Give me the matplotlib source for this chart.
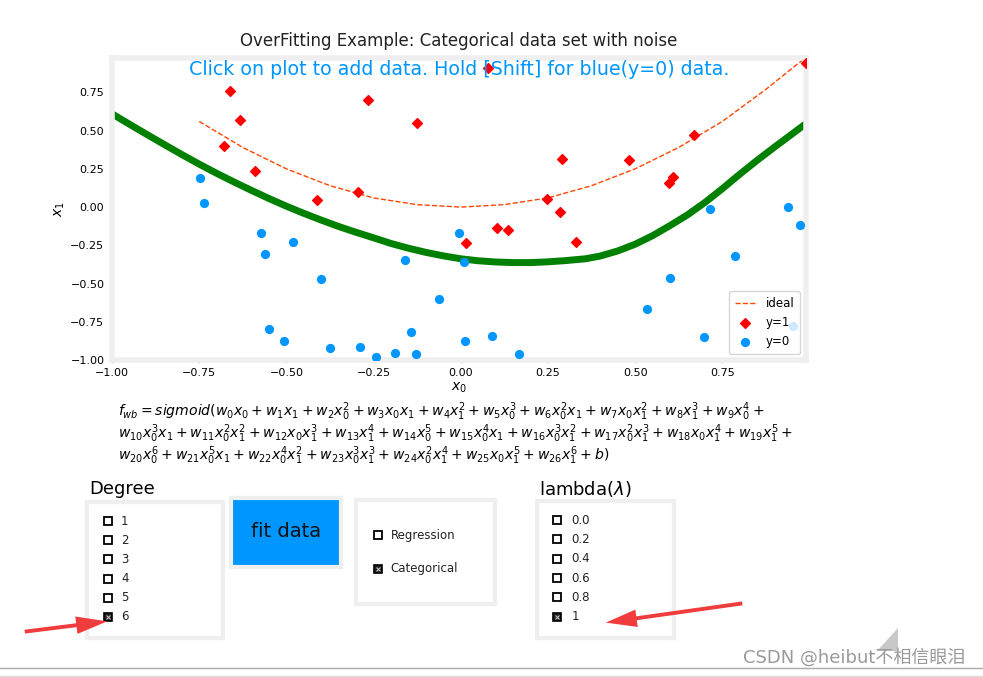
import numpy as np
import matplotlib
matplotlib.use('Agg')
import matplotlib.pyplot as plt
from matplotlib.patches import FancyArrowPatch, Polygon

plt.rcParams['font.family'] = ['DejaVu Sans', 'Noto Sans CJK SC']

W, H = 983, 677
dlblue = '#0096ff'
frame_gray = '#efefef'

# y=1 samples (red diamonds)
pos_x0 = [-0.662, -0.633, -0.678, -0.590, -0.413, 0.079, -0.267, -0.125, 0.291, -0.296, 0.246,
          0.285, 0.483, 0.670, 0.609, 0.596, 0.990, 0.105, 0.136, 0.330, 0.015]
pos_x1 = [0.761, 0.568, 0.399, 0.239, 0.046, 0.912, 0.699, 0.553, 0.316, 0.097, 0.053,
          -0.035, 0.309, 0.474, 0.199, 0.156, 0.945, -0.134, -0.149, -0.228, -0.237]

# y=0 samples (blue dots)
neg_x0 = [-0.749, -0.736, -0.574, -0.482, -0.561, -0.401, -0.551, -0.507, -0.374, -0.288,
          -0.242, -0.188, -0.159, -0.143, -0.128, -0.063, -0.004, 0.009, 0.013, 0.091, 0.167,
          0.534, 0.600, 0.697, 0.716, 0.786, 0.937, 0.973, 0.953]
neg_x1 = [0.191, 0.026, -0.171, -0.230, -0.305, -0.471, -0.794, -0.873, -0.923, -0.917,
          -0.978, -0.956, -0.344, -0.814, -0.958, -0.601, -0.171, -0.360, -0.879, -0.842, -0.958,
          -0.664, -0.467, -0.849, -0.013, -0.322, -0.002, -0.118, -0.776]

# ideal boundary (dashed)
ideal_x = [-0.75, -0.625, -0.5, -0.375, -0.25, -0.125, 0.0, 0.125, 0.25, 0.375, 0.5, 0.625,
           0.75, 0.875, 0.99]
ideal_y = [0.56, 0.39, 0.25, 0.14, 0.06, 0.016, 0.0, 0.016, 0.06, 0.14, 0.25, 0.39,
           0.56, 0.77, 0.98]

# fitted decision boundary (green)
fit_x = [-1.0, -0.95, -0.9, -0.85, -0.8, -0.75, -0.7, -0.65, -0.6, -0.55, -0.5, -0.45, -0.4,
         -0.35, -0.3, -0.25, -0.2, -0.15, -0.1, -0.05, 0.0, 0.05, 0.1, 0.15, 0.2, 0.25, 0.3,
         0.358, 0.4, 0.45, 0.5, 0.55, 0.6, 0.65, 0.7, 0.75, 0.8, 0.85, 0.9, 0.95, 0.99]
fit_y = [0.610, 0.542, 0.475, 0.409, 0.344, 0.281, 0.221, 0.164, 0.109, 0.056, 0.006, -0.041,
         -0.085, -0.127, -0.165, -0.201, -0.238, -0.269, -0.296, -0.319, -0.338, -0.351, -0.359,
         -0.363, -0.363, -0.358, -0.350, -0.338, -0.320, -0.287, -0.243, -0.187, -0.121, -0.051,
         0.030, 0.120, 0.215, 0.306, 0.393, 0.478, 0.546]

degree_opts = ['1', '2', '3', '4', '5', '6']
degree_sel = '6'
type_opts = ['Regression', 'Categorical']
type_sel = 'Categorical'
lambda_opts = ['0.0', '0.2', '0.4', '0.6', '0.8', '1']
lambda_sel = '1'

eq_lines = [
    r'$f_{wb} = sigmoid(w_0x_0 + w_1x_1 + w_2x_0^2 + w_3x_0x_1 + w_4x_1^2 + w_5x_0^3 + w_6x_0^2x_1 + w_7x_0x_1^2 + w_8x_1^3 + w_9x_0^4 + $',
    r'$w_{10}x_0^3x_1 + w_{11}x_0^2x_1^2 + w_{12}x_0x_1^3 + w_{13}x_1^4 + w_{14}x_0^5 + w_{15}x_0^4x_1 + w_{16}x_0^3x_1^2 + w_{17}x_0^2x_1^3 + w_{18}x_0x_1^4 + w_{19}x_1^5 + $',
    r'$w_{20}x_0^6 + w_{21}x_0^5x_1 + w_{22}x_0^4x_1^2 + w_{23}x_0^3x_1^3 + w_{24}x_0^2x_1^4 + w_{25}x_0x_1^5 + w_{26}x_1^6 + b)$',
]


def box(x0, y0, x1, y1):
    # pixel box (top-left origin) -> figure fraction rect
    return [x0 / W, 1 - y1 / H, (x1 - x0) / W, (y1 - y0) / H]


def frame(ax, color=frame_gray, lw=3):
    ax.set_xticks([])
    ax.set_yticks([])
    ax.set_xlim(0, 1)
    ax.set_ylim(0, 1)
    for s in ax.spines.values():
        s.set_color(color)
        s.set_linewidth(lw)


def radio(ax, opts, sel, xbox, xlab, ys, fs=8.5):
    frame(ax)
    for lab, y in zip(opts, ys):
        if lab == sel:
            ax.plot(xbox, y, marker='s', ms=5.5, mfc='#222222', mec='black', mew=1.2)
            ax.plot(xbox, y, marker='x', ms=3, mec='#bbbbbb', mew=0.8)
        else:
            ax.plot(xbox, y, marker='s', ms=5.5, mfc='white', mec='black', mew=1.3)
        ax.text(xlab, y, lab, fontsize=fs, va='center', ha='left', color='#222222')


fig = plt.figure(figsize=(W / 100, H / 100), dpi=100)

ax = fig.add_axes(box(112, 58, 806, 360))
ax.plot(fit_x, fit_y, color='green', lw=5, solid_capstyle='butt', solid_joinstyle='round')
ax.plot(ideal_x, ideal_y, '--', color='orangered', lw=1, label='ideal')
ax.scatter(pos_x0, pos_x1, marker='D', s=25, c='red', label='y=1', zorder=3)
ax.scatter(neg_x0, neg_x1, marker='o', s=44, c=dlblue, linewidths=0, label='y=0', zorder=3)
ax.set_xlim(-1, 0.99)
ax.set_ylim(-1, 0.975)
ax.set_title('OverFitting Example: Categorical data set with noise', fontsize=12, pad=9,
             color='#222222')
ax.text(0.5, 0.995, 'Click on plot to add data. Hold [Shift] for blue(y=0) data.',
        transform=ax.transAxes, ha='center', va='top', fontsize=13.7, color=dlblue)
ax.set_xlabel('$x_0$', fontsize=10, labelpad=2)
ax.set_ylabel('$x_1$', fontsize=10, labelpad=2)
ax.tick_params(labelsize=8, length=2, color='#cccccc')
for s in ax.spines.values():
    s.set_color(frame_gray)
    s.set_linewidth(4)
ax.legend(loc='lower right', fontsize=8.5, handlelength=1.8, borderpad=0.5, labelspacing=0.5)

for i, line in enumerate(eq_lines):
    fig.text(118 / W, 1 - (412 + 22 * i) / H, line, fontsize=10.1, va='center', ha='left')

item_ys = np.linspace(0.86, 0.155, 6)

ax_deg = fig.add_axes(box(87, 502, 223, 638))
radio(ax_deg, degree_opts, degree_sel, 0.154, 0.25, item_ys)
fig.text(89 / W, 1 - 489 / H, 'Degree', fontsize=13, va='center', ha='left')

ax_btn = fig.add_axes(box(231, 498, 341, 567))
frame(ax_btn, lw=3)
ax_btn.set_facecolor(dlblue)
ax_btn.text(0.5, 0.52, 'fit data', fontsize=14, ha='center', va='center', color='#111111')

ax_type = fig.add_axes(box(356, 500, 495, 604))
radio(ax_type, type_opts, type_sel, 0.158, 0.25, [0.663, 0.337])

ax_lam = fig.add_axes(box(537, 501, 674, 638))
radio(ax_lam, lambda_opts, lambda_sel, 0.146, 0.25, item_ys)
fig.text(539 / W, 1 - 489 / H, r'lambda($\lambda$)', fontsize=13, va='center', ha='left')

# screenshot overlay: arrows, resize handle, bottom rule, watermark
ov = fig.add_axes([0, 0, 1, 1], facecolor='none')
ov.set_xlim(0, W)
ov.set_ylim(H, 0)
ov.axis('off')
for (tx, ty), (hx, hy) in [((22, 632), (110, 621)), ((745, 603), (603, 623))]:
    ov.add_patch(FancyArrowPatch((tx, ty), (hx, hy), mutation_scale=14, color='#f03c3c', lw=0,
                                 arrowstyle='simple,head_width=0.9,head_length=1.6,tail_width=0.2'))
ov.add_patch(Polygon([(898, 628), (898, 651), (877, 651)], closed=True, color='#c8c8c8', lw=0))
ov.plot([0, W], [668, 668], color='#aaaaaa', lw=1)
ov.plot([0, W], [675.5, 675.5], color='#dddddd', lw=1)
ov.text(743, 657, 'CSDN @heibut不相信眼泪', fontsize=13, color='#9a9a9a', va='center', ha='left')

fig.savefig('out.png', dpi=100)
